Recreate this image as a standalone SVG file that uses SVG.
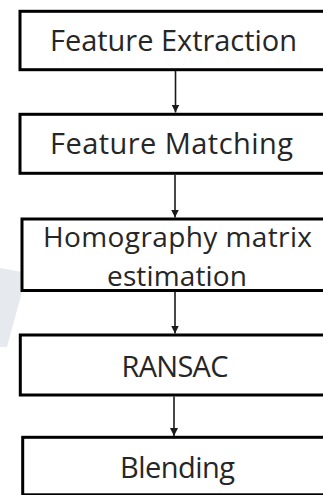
<svg xmlns="http://www.w3.org/2000/svg" width="323" height="495" viewBox="0 0 323 495">
<style>
.box{fill:#ffffff;stroke:#000000;stroke-width:3}
.lbl{font-family:"Open Sans","Liberation Sans",sans-serif;font-size:29px;fill:#262626;text-anchor:middle;font-variant-ligatures:none}
.conn{stroke:#1a1a1a;stroke-width:1.6;fill:none}
</style>
<defs>
<marker id="ah" viewBox="0 0 10 10" refX="10" refY="5" markerWidth="8" markerHeight="8" markerUnits="userSpaceOnUse" orient="auto">
<path d="M0,0 L10,5 L0,10 Z" fill="#1a1a1a"/>
</marker>
</defs>
<rect width="323" height="495" fill="#ffffff"/>
<polygon points="0,268 22,272 22,292 7,347 0,347" fill="#e6eaef"/>
<g id="connectors">
<line class="conn" x1="175.5" y1="71" x2="175.5" y2="112.5" marker-end="url(#ah)"/>
<line class="conn" x1="175" y1="175" x2="175" y2="217.5" marker-end="url(#ah)"/>
<line class="conn" x1="175" y1="292" x2="175" y2="333.5" marker-end="url(#ah)"/>
<line class="conn" x1="174" y1="396.5" x2="174" y2="436" marker-end="url(#ah)"/>
</g>
<g id="feature-extraction">
<rect class="box" x="20" y="11.3" width="320" height="58.4"/>
<text class="lbl" x="173.5" y="51" textLength="247">Feature Extraction</text>
</g>
<g id="feature-matching">
<rect class="box" x="20" y="114.3" width="320" height="59"/>
<text class="lbl" x="171.5" y="153.5" textLength="243">Feature Matching</text>
</g>
<g id="homography">
<rect class="box" x="22" y="219" width="320" height="71.5"/>
<text class="lbl" x="177.5" y="246.7" textLength="269" style="font-size:28px">Homography matrix</text>
<text class="lbl" x="177" y="285.5" textLength="140" style="font-size:28px">estimation</text>
</g>
<g id="ransac">
<rect class="box" x="20.3" y="335" width="320" height="60"/>
<text class="lbl" x="175" y="376.5" textLength="107">RANSAC</text>
</g>
<g id="blending">
<rect class="box" x="22.7" y="437.3" width="320" height="57.5"/>
<text class="lbl" x="177.5" y="477.5" textLength="115">Blending</text>
</g>
</svg>
